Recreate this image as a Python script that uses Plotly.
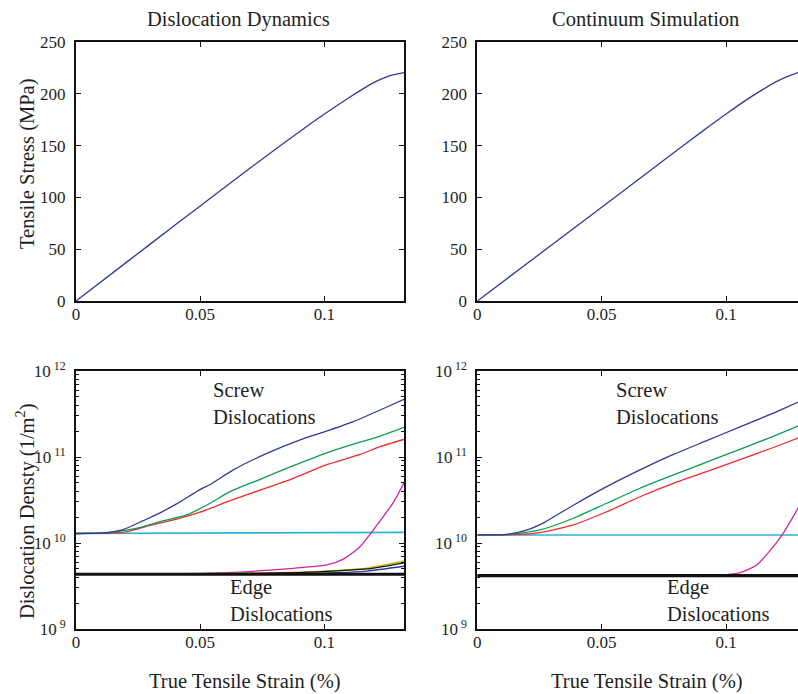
import plotly.graph_objects as go

# ---------------- data ----------------
# Top row: tensile stress (MPa) vs true tensile strain (%)
dd_stress_strain = [0, 0.02, 0.04, 0.06, 0.08, 0.1, 0.11, 0.115, 0.12, 0.125, 0.128, 0.132]
dd_stress = [0, 36.8, 73.5, 110, 146, 180.5, 196.5, 204, 211, 216.3, 218.5, 220.4]

cs_stress_strain = [0, 0.02, 0.04, 0.06, 0.08, 0.09, 0.1, 0.11, 0.115, 0.12, 0.125, 0.1289, 0.1325]
cs_stress = [0, 36.2, 72.4, 108.6, 145, 163, 180.5, 197, 204.5, 211.5, 217, 220.5, 222.5]

# Bottom-left: dislocation dynamics densities (1/m^2)
dd_blue_x = [0, 0.01, 0.015, 0.019, 0.0271, 0.0338, 0.0405, 0.0499, 0.054, 0.0633, 0.0768, 0.0902, 0.1002, 0.1116, 0.1224, 0.132]
dd_blue_y = [1.29e10, 1.30e10, 1.35e10, 1.43e10, 1.82e10, 2.24e10, 2.85e10, 4.17e10, 4.79e10, 7.08e10, 1.10e11, 1.58e11, 1.97e11, 2.58e11, 3.52e11, 4.69e11]

dd_green_x = [0, 0.0137, 0.0204, 0.0271, 0.0338, 0.0446, 0.054, 0.062, 0.0741, 0.0875, 0.1009, 0.1116, 0.1224, 0.132]
dd_green_y = [1.29e10, 1.33e10, 1.41e10, 1.55e10, 1.77e10, 2.12e10, 2.90e10, 3.95e10, 5.50e10, 7.94e10, 1.12e11, 1.41e11, 1.75e11, 2.21e11]

dd_red_x = [0, 0.015, 0.0204, 0.0298, 0.0405, 0.0499, 0.0607, 0.0741, 0.0875, 0.1009, 0.1143, 0.1224, 0.132]
dd_red_y = [1.29e10, 1.31e10, 1.35e10, 1.60e10, 1.90e10, 2.28e10, 3.00e10, 4.13e10, 5.65e10, 8.13e10, 1.07e11, 1.32e11, 1.60e11]

dd_cyan_x = [0, 0.066, 0.132]
dd_cyan_y = [1.29e10, 1.31e10, 1.33e10]

dd_magenta_x = [0, 0.035, 0.0607, 0.0875, 0.1009, 0.1076, 0.1143, 0.121, 0.1277, 0.132]
dd_magenta_y = [4.33e9, 4.37e9, 4.52e9, 5.08e9, 5.55e9, 6.50e9, 9.06e9, 1.60e10, 2.95e10, 5.01e10]

dd_edge_small_x = [0, 0.05, 0.0902, 0.105, 0.117, 0.132]
dd_yellow_y = [4.33e9, 4.37e9, 4.56e9, 4.79e9, 5.08e9, 6.17e9]
dd_black_y = [4.33e9, 4.37e9, 4.53e9, 4.73e9, 4.99e9, 5.89e9]
dd_blue_edge_y = [4.33e9, 4.35e9, 4.42e9, 4.52e9, 4.72e9, 5.37e9]

dd_edge_x = [0, 0.132]
dd_edge_y = [4.33e9, 4.33e9]

# Bottom-right: continuum simulation densities (1/m^2)
cs_blue_x = [0, 0.0118, 0.0198, 0.027, 0.0386, 0.052, 0.0654, 0.0788, 0.0922, 0.1056, 0.119, 0.1289, 0.1325]
cs_blue_y = [1.24e10, 1.26e10, 1.41e10, 1.74e10, 2.75e10, 4.52e10, 7.08e10, 1.07e11, 1.55e11, 2.24e11, 3.24e11, 4.32e11, 4.68e11]

cs_green_x = [0, 0.012, 0.0252, 0.0386, 0.052, 0.0654, 0.0788, 0.0922, 0.1056, 0.119, 0.1289, 0.1325]
cs_green_y = [1.24e10, 1.26e10, 1.42e10, 1.94e10, 2.90e10, 4.33e10, 6.18e10, 8.71e10, 1.23e11, 1.74e11, 2.29e11, 2.51e11]

cs_red_x = [0, 0.015, 0.0252, 0.0386, 0.052, 0.0654, 0.0788, 0.0922, 0.1056, 0.119, 0.1289, 0.1325]
cs_red_y = [1.24e10, 1.25e10, 1.32e10, 1.62e10, 2.31e10, 3.45e10, 4.94e10, 6.76e10, 9.33e10, 1.29e11, 1.66e11, 1.82e11]

cs_cyan_x = [0, 0.1325]
cs_cyan_y = [1.24e10, 1.24e10]

cs_magenta_x = [0, 0.0989, 0.1056, 0.1123, 0.119, 0.123, 0.1289, 0.1325]
cs_magenta_y = [4.17e9, 4.25e9, 4.52e9, 5.55e9, 9.06e9, 1.30e10, 2.53e10, 3.80e10]

cs_edge_x = [0, 0.1325]
cs_edge_y = [4.17e9, 4.17e9]

# ticks
strain_tickvals = [0, 0.05, 0.1]
strain_ticktext = ["0", "0.05", "0.1"]
stress_tickvals = [0, 50, 100, 150, 200, 250]
density_tickvals = [1e9, 1e10, 1e11, 1e12]
density_ticktext = ["10<sup> 9</sup>", "10<sup> 10</sup>", "10<sup> 11</sup>", "10<sup> 12</sup>"]
density_minor = [m * 10 ** e for e in (9, 10, 11) for m in range(2, 10)]

# ---------------- style ----------------
FONT = "Liberation Serif, Times New Roman, serif"
BLUE = "#2f3a98"
GREEN = "#0a9f4f"
RED = "#ee2b2b"
CYAN = "#2fb3d4"
MAGENTA = "#d0239f"
YELLOW = "#cdb800"
TXT = "#1e1e1e"

W, H = 798, 694
def px(x):
    return x / W
def py(y):
    return 1 - y / H

fig = go.Figure()

def line(x, y, color, xa, ya, width=1.3, shape="spline"):
    fig.add_trace(go.Scatter(x=x, y=y, mode="lines", xaxis=xa, yaxis=ya,
                             line=dict(color=color, width=width, shape=shape, smoothing=0.6),
                             showlegend=False, hoverinfo="skip"))

# top-left
line(dd_stress_strain, dd_stress, BLUE, "x", "y")
# top-right
line(cs_stress_strain, cs_stress, BLUE, "x2", "y2")
# bottom-left
line(dd_cyan_x, dd_cyan_y, CYAN, "x3", "y3", width=1.6)
line(dd_red_x, dd_red_y, RED, "x3", "y3")
line(dd_green_x, dd_green_y, GREEN, "x3", "y3")
line(dd_blue_x, dd_blue_y, BLUE, "x3", "y3")
line(dd_magenta_x, dd_magenta_y, MAGENTA, "x3", "y3")
line(dd_edge_small_x, dd_blue_edge_y, BLUE, "x3", "y3")
line(dd_edge_small_x, dd_yellow_y, YELLOW, "x3", "y3", width=1.6)
line(dd_edge_small_x, dd_black_y, "#111111", "x3", "y3")
line(dd_edge_x, dd_edge_y, "#111111", "x3", "y3", width=3.2, shape="linear")
# bottom-right
line(cs_cyan_x, cs_cyan_y, CYAN, "x4", "y4", width=1.6)
line(cs_red_x, cs_red_y, RED, "x4", "y4")
line(cs_green_x, cs_green_y, GREEN, "x4", "y4")
line(cs_blue_x, cs_blue_y, BLUE, "x4", "y4")
line(cs_magenta_x, cs_magenta_y, MAGENTA, "x4", "y4")
line(cs_edge_x, cs_edge_y, "#111111", "x4", "y4", width=3.2, shape="linear")

tickfont = dict(family=FONT, size=17, color=TXT)
base_ax = dict(showline=True, linecolor="#111111", linewidth=2, ticks="inside", ticklen=5,
               tickcolor="#111111", tickwidth=1, showgrid=False, zeroline=False,
               tickfont=tickfont, automargin=False)

left_dom = [px(76), px(404)]
right_dom = [px(477.3), 1.0]
top_dom = [py(301), py(42)]
bot_dom = [py(629), py(371)]

xl = dict(base_ax, range=[0, 0.132], tickvals=strain_tickvals, ticktext=strain_ticktext,
          mirror="ticks", ticklabelstandoff=-3)
xr = dict(base_ax, range=[0, 0.1289], tickvals=strain_tickvals, ticktext=strain_ticktext,
          mirror="ticks", ticklabelstandoff=-3)

fig.update_layout(
    width=W, height=H, margin=dict(l=0, r=0, t=0, b=0, pad=0, autoexpand=False),
    autosize=False,
    paper_bgcolor="white", plot_bgcolor="white",
    xaxis=dict(xl, domain=left_dom, anchor="y"),
    yaxis=dict(base_ax, domain=top_dom, anchor="x", range=[0, 250], tickvals=stress_tickvals,
               mirror="ticks", ticklabelstandoff=5),
    xaxis2=dict(xr, domain=right_dom, anchor="y2"),
    yaxis2=dict(base_ax, domain=top_dom, anchor="x2", range=[0, 250], tickvals=stress_tickvals,
                mirror=False, ticklabelstandoff=5),
    xaxis3=dict(xl, domain=left_dom, anchor="y3"),
    yaxis3=dict(base_ax, domain=bot_dom, anchor="x3", type="log", range=[9, 12],
                tickvals=density_tickvals, ticktext=density_ticktext, mirror="ticks",
                ticklabelstandoff=5,
                minor=dict(tickvals=density_minor, ticks="inside", ticklen=3, tickcolor="#111111")),
    xaxis4=dict(xr, domain=right_dom, anchor="y4"),
    yaxis4=dict(base_ax, domain=bot_dom, anchor="x4", type="log", range=[9, 12],
                tickvals=density_tickvals, ticktext=density_ticktext, mirror=False,
                ticklabelstandoff=5,
                minor=dict(tickvals=density_minor, ticks="inside", ticklen=3, tickcolor="#111111")),
)

def note(text, x, y, xanchor="center", angle=0, align="center"):
    fig.add_annotation(text=text, x=px(x), y=py(y), xref="paper", yref="paper",
                       xanchor=xanchor, yanchor="middle", showarrow=False, textangle=angle,
                       align=align, font=dict(family=FONT, size=20.5, color=TXT))

note("Dislocation Dynamics", 238, 19)
note("Continuum Simulation", 645, 19)
note("Tensile Stress (MPa)", 27, 164, angle=-90)
note("Dislocation Densty (1/m<sup>2</sup>)", 25, 511, angle=-90)
note("True Tensile Strain (%)", 245, 681)
note("True Tensile Strain (%)", 647, 681)
note("Screw<br>Dislocations", 211, 403, xanchor="left", align="left")
note("Edge<br>Dislocations", 228, 600, xanchor="left", align="left")
note("Screw<br>Dislocations", 614, 403, xanchor="left", align="left")
note("Edge<br>Dislocations", 665, 600, xanchor="left", align="left")

fig.write_html("out.html")
